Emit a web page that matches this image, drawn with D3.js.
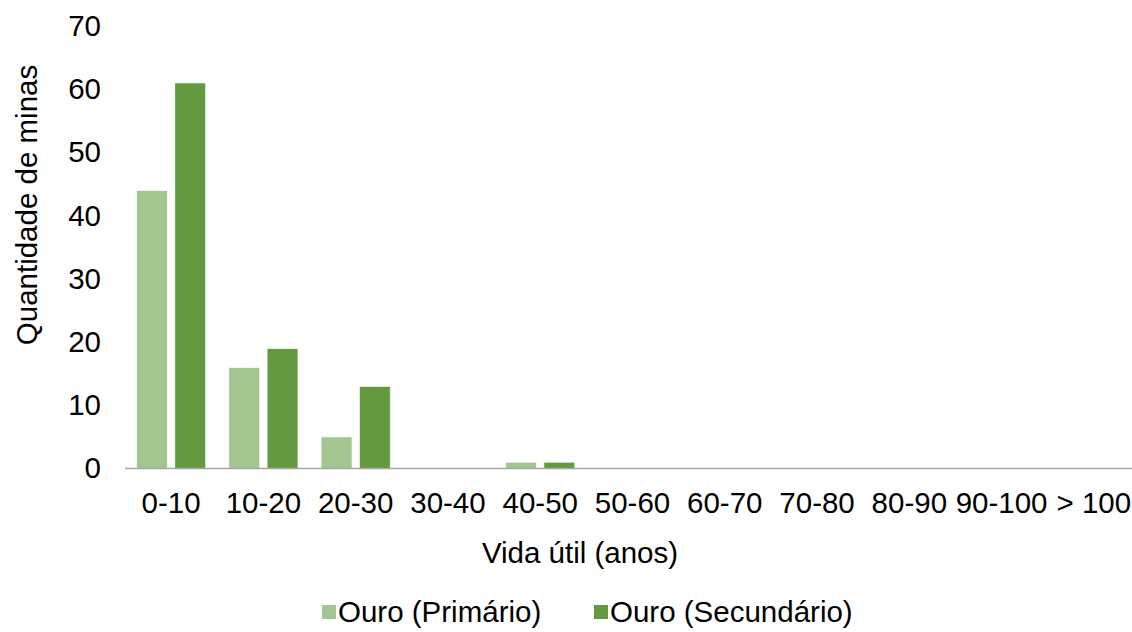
<!DOCTYPE html>
<html>
<head>
<meta charset="utf-8">
<script src="https://cdn.jsdelivr.net/npm/d3@7"></script>
<style>
  html, body { margin: 0; padding: 0; background: #ffffff; }
  svg { display: block; font-family: "Liberation Sans", Arial, sans-serif; }
</style>
</head>
<body>
<svg id="chart" width="1132" height="632"></svg>
<script>
// Lifespan classes (years) and number of gold mines in each class
const categories = ["0-10", "10-20", "20-30", "30-40", "40-50", "50-60", "60-70", "70-80", "80-90", "90-100", "> 100"];
const seriesNames = ["Ouro (Primário)", "Ouro (Secundário)"];
const primario   = [44, 16, 5, 0, 1, 0, 0, 0, 0, 0, 0];
const secundario = [61, 19, 13, 0, 1, 0, 0, 0, 0, 0, 0];
const yTicks = [0, 10, 20, 30, 40, 50, 60, 70];

const colors = ["#a3c58f", "#649a3f"];
const W = 1132, H = 632;
const margin = { left: 125, right: -8, top: 26, bottom: 163.5 };
const fontSize = 29.5;

const svg = d3.select("#chart");

const rows = categories.map((c, i) => ({ cat: c, values: [primario[i], secundario[i]] }));

const x0 = d3.scaleBand()
  .domain(categories)
  .range([margin.left, W - margin.right])
  .paddingInner(0.25)
  .paddingOuter(0.125);

const x1 = d3.scaleBand()
  .domain([0, 1])
  .range([0, x0.bandwidth()])
  .paddingInner(0.19)
  .paddingOuter(0);

const y = d3.scaleLinear()
  .domain([0, 70])
  .range([H - margin.bottom, margin.top]);

// Bars
const groups = svg.append("g")
  .selectAll("g")
  .data(rows)
  .join("g")
  .attr("transform", d => `translate(${x0(d.cat)},0)`);

groups.selectAll("rect")
  .data(d => d.values.map((v, k) => ({ k, v })))
  .join("rect")
  .attr("x", d => x1(d.k))
  .attr("width", x1.bandwidth())
  .attr("y", d => y(d.v))
  .attr("height", d => y(0) - y(d.v))
  .attr("fill", d => colors[d.k])
  .attr("stroke", "#ffffff")
  .attr("stroke-width", 0.75);

// Y axis: labels only
const yAxis = svg.append("g")
  .attr("transform", `translate(${margin.left - 24},0)`)
  .call(d3.axisLeft(y).tickValues(yTicks).tickSize(0).tickPadding(0));
yAxis.select(".domain").remove();
yAxis.selectAll("text")
  .attr("font-size", fontSize)
  .attr("font-family", "Liberation Sans, Arial, sans-serif")
  .attr("fill", "#000");

// X axis: baseline and category labels
const xAxis = svg.append("g")
  .attr("transform", `translate(0,${y(0)})`)
  .call(d3.axisBottom(x0).tickSize(0).tickPadding(24));
xAxis.select(".domain")
  .attr("stroke", "#a6a6a6")
  .attr("stroke-width", 1.5)
  .attr("d", `M${margin.left},0H${W}`);
xAxis.selectAll("text")
  .attr("font-size", fontSize)
  .attr("font-family", "Liberation Sans, Arial, sans-serif")
  .attr("fill", "#000");

// Axis titles
svg.append("text")
  .attr("x", 580)
  .attr("y", 553)
  .attr("dy", "0.35em")
  .attr("text-anchor", "middle")
  .attr("font-size", fontSize)
  .text("Vida útil (anos)");

svg.append("text")
  .attr("transform", `translate(27,${205}) rotate(-90)`)
  .attr("dy", "0.35em")
  .attr("text-anchor", "middle")
  .attr("font-size", fontSize)
  .text("Quantidade de minas");

// Legend
const legendItems = [
  { name: seriesNames[0], color: colors[0], x: 322 },
  { name: seriesNames[1], color: colors[1], x: 594 }
];
const legend = svg.append("g").attr("transform", "translate(0,612)");
legendItems.forEach(it => {
  legend.append("rect")
    .attr("x", it.x)
    .attr("y", -7)
    .attr("width", 14)
    .attr("height", 14)
    .attr("fill", it.color);
  legend.append("text")
    .attr("x", it.x + 16)
    .attr("y", 0)
    .attr("dy", "0.35em")
    .attr("font-size", fontSize)
    .text(it.name);
});
</script>
</body>
</html>
